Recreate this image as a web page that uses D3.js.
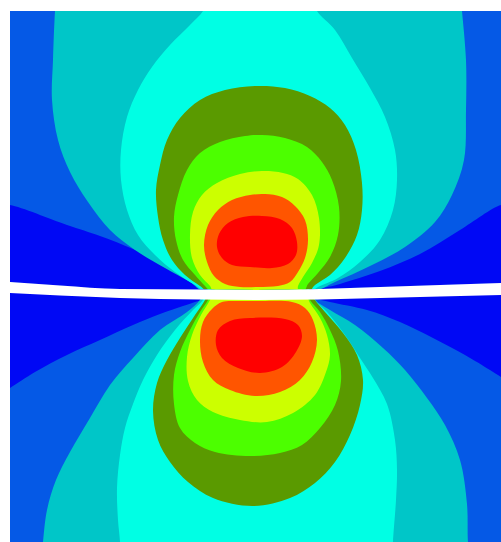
<!DOCTYPE html>
<meta charset="utf-8">

<head>
    <meta charset="utf-8">
    <title>Contact stress contours</title>
    <script type="text/javascript" src="https://d3js.org/d3.v7.min.js"></script>
</head>

<style type="text/css">
    body {
        margin: 0;
        background-color: #ffffff;
    }
</style>

<body>

    <div id="my_dataviz"></div>

    <script>

        // contour bands, lowest to highest
        const levels = [0, 1, 2, 3, 4, 5, 6, 7, 8];
        const palette = ["#0008F5", "#0559E6", "#00C6C8", "#00FFE4", "#5A9A00", "#4CFF00", "#CCFF00", "#FF5500", "#FF0000"];

        // the slit between the two bodies (x, y in mm)
        const gapTop = [[-24.6, 0.8], [-19.6, 0.45], [-13.6, 0.1], [-5.6, 0.05], [0, 0.0], [6.4, 0.1], [12.4, 0.3], [18.4, 0.5], [24.5, 0.7]];
        const gapBottom = [[-24.6, -0.3], [-19.6, -0.55], [-13.6, -0.8], [-5.6, -0.95], [0, -1.0], [6.4, -0.95], [12.4, -0.8], [18.4, -0.65], [24.5, -0.5]];

        // upper body: band outlines
        const upperDarkLeft = [[-25.6, 8.5], [-24.6, 8.5], [-18.9, 6.5], [-15.6, 5.4], [-12.3, 4.1], [-9.6, 2.9], [-7.1, 1.6], [-5.6, 0.7], [-4.8, -0.2], [-4.8, -1.0], [-25.6, -1.0]];
        const upperDarkRight = [[25.5, 8.5], [24.5, 8.5], [20.4, 6.0], [16.4, 3.6], [12.4, 1.9], [8.4, 0.6], [5.9, -0.2], [5.9, -1.0], [25.5, -1.0]];
        const upperTeal = [[-5.1, -0.2], [-6.6, 0.8], [-9.1, 2.2], [-12.1, 4.0], [-14.6, 6.0], [-16.8, 8.8], [-18.6, 11.8], [-19.8, 15.0], [-20.4, 19.0], [-20.3, 23.0], [-20.1, 27.9], [-20.0, 29.0],
            [20.5, 29.0], [20.6, 27.9], [21.0, 23.0], [21.0, 18.0], [20.8, 13.0], [19.6, 9.5], [17.9, 6.8], [14.9, 4.3], [11.4, 2.4], [7.9, 0.8], [5.6, -0.2]];
        const upperCyan = [[-4.9, -0.2], [-6.1, 0.5], [-8.1, 1.8], [-10.1, 3.5], [-11.8, 5.5], [-12.9, 8.0], [-13.5, 11.0], [-13.5, 14.0], [-12.9, 17.3], [-11.8, 20.0], [-10.4, 22.3], [-8.6, 24.5], [-6.6, 26.5], [-5.3, 27.9], [-4.9, 29.0],
            [5.7, 29.0], [6.1, 27.9], [7.9, 26.0], [9.6, 23.2], [11.4, 20.2], [12.9, 17.3], [13.9, 14.0], [14.1, 11.0], [13.7, 8.0], [12.4, 5.0], [10.4, 2.8], [8.2, 1.2], [6.2, 0.3], [5.4, -0.2]];
        const upperOlive = [[-4.7, -0.2], [-5.6, 0.4], [-7.1, 1.5], [-8.4, 3.0], [-9.3, 5.0], [-9.8, 7.3], [-10.0, 10.0], [-9.6, 12.5], [-8.9, 15.0], [-7.6, 17.2], [-5.6, 19.0], [-3.1, 20.0], [-0.1, 20.4],
            [2.9, 20.2], [5.4, 19.4], [7.4, 18.2], [8.9, 16.5], [10.0, 14.0], [10.6, 10.7], [10.6, 8.0], [10.1, 5.5], [8.9, 3.2], [7.4, 1.5], [5.9, 0.5], [5.2, -0.2]];
        const upperGreen = [[-4.4, -0.2], [-5.1, 0.4], [-6.1, 1.5], [-7.3, 3.0], [-8.0, 5.0], [-8.2, 7.3], [-7.8, 9.5], [-6.9, 12.0], [-5.6, 13.7], [-3.6, 14.8], [-1.1, 15.4], [0.6, 15.5],
            [2.9, 15.2], [5.1, 14.3], [6.6, 12.8], [7.6, 11.0], [8.3, 8.3], [8.2, 5.5], [7.4, 3.3], [6.2, 1.7], [5.2, 0.6], [4.7, -0.2]];
        const upperYellow = [[-4.2, -0.2], [-4.6, 0.4], [-5.6, 1.5], [-6.4, 3.2], [-6.6, 5.5], [-6.3, 7.8], [-5.4, 9.5], [-3.9, 10.7], [-1.6, 11.6], [0.6, 11.9],
            [2.7, 11.7], [4.2, 11.1], [5.6, 9.5], [6.3, 7.2], [6.3, 4.5], [5.6, 2.7], [4.7, 1.3], [4.2, 0.4], [4.1, -0.2]];
        const upperOrange = [[-3.1, 0.6], [-4.2, 1.4], [-4.9, 2.8], [-5.2, 4.5], [-4.8, 6.5], [-3.8, 8.0], [-2.4, 9.0], [-0.6, 9.5], [0.9, 9.6], [2.6, 9.3],
            [3.9, 8.4], [4.9, 7.0], [5.2, 5.0], [4.9, 3.2], [4.2, 1.8], [3.4, 0.8], [2.2, 0.4], [0.2, 0.3], [-1.6, 0.3]];
        const upperRed = [[-0.6, 2.3], [-2.4, 2.5], [-3.4, 3.2], [-3.9, 4.3], [-3.7, 5.6], [-2.8, 6.7], [-1.3, 7.3], [0.6, 7.4], [2.4, 7.1], [3.6, 6.2], [4.1, 4.8], [4.0, 3.5], [3.2, 2.6], [1.6, 2.2]];

        // lower body
        const lowerDarkLeft = [[-25.6, 0.0], [-4.6, 0.0], [-5.1, -0.8], [-6.1, -1.2], [-7.3, -1.6], [-9.6, -2.4], [-12.3, -3.5], [-15.6, -5.0], [-18.9, -6.5], [-22.1, -8.2], [-24.6, -9.8], [-25.6, -10.4]];
        const lowerDarkRight = [[25.5, 0.0], [4.9, 0.0], [5.9, -0.8], [7.4, -1.2], [11.1, -2.0], [14.4, -3.2], [17.7, -4.8], [20.9, -6.5], [23.4, -8.0], [24.5, -8.7], [25.5, -9.3]];
        const lowerTeal = [[-5.1, 0.0], [-5.6, -1.0], [-6.9, -2.2], [-9.6, -4.0], [-12.3, -6.8], [-14.6, -9.5], [-16.6, -12.8], [-18.6, -16.2], [-20.0, -19.0], [-20.9, -22.0], [-21.3, -25.2], [-21.4, -26.5],
            [21.4, -26.5], [21.2, -25.2], [21.1, -21.4], [20.4, -17.0], [18.9, -13.5], [17.1, -10.8], [14.9, -8.0], [12.7, -5.8], [9.9, -3.5], [7.4, -2.0], [5.9, -1.0], [5.4, 0.0]];
        const lowerCyan = [[-4.9, 0.0], [-5.3, -1.0], [-6.3, -2.0], [-8.1, -4.0], [-9.9, -6.5], [-11.3, -9.0], [-12.3, -11.4], [-13.1, -13.8], [-13.6, -16.5], [-13.9, -19.8], [-13.8, -23.0], [-13.6, -25.2], [-13.6, -26.5],
            [13.7, -26.5], [13.7, -25.2], [14.0, -21.0], [14.1, -18.0], [13.9, -15.0], [13.1, -11.4], [11.7, -8.8], [10.4, -6.8], [8.9, -4.5], [7.1, -2.2], [5.9, -1.0], [5.4, 0.0]];
        const lowerOlive = [[-4.7, 0.0], [-5.1, -1.0], [-6.1, -2.5], [-7.6, -4.8], [-8.9, -7.0], [-9.9, -9.3], [-10.3, -12.1], [-9.8, -15.0], [-8.6, -17.2], [-6.8, -19.2], [-4.3, -20.8], [-0.3, -21.6],
            [3.4, -20.8], [5.9, -19.3], [7.9, -17.2], [9.4, -14.5], [10.4, -11.5], [10.7, -9.0], [10.1, -6.5], [8.7, -4.3], [6.9, -2.2], [5.9, -1.0], [5.3, 0.0]];
        const lowerGreen = [[-4.4, 0.0], [-4.8, -1.0], [-5.6, -2.2], [-6.6, -4.0], [-7.6, -6.2], [-8.2, -8.5], [-8.2, -11.4], [-7.6, -13.8], [-6.1, -15.3], [-4.1, -16.2], [-0.6, -16.6],
            [2.4, -16.3], [4.6, -15.5], [6.4, -13.8], [7.9, -11.5], [8.5, -9.1], [8.2, -6.1], [7.4, -4.0], [6.4, -2.2], [5.4, -1.0], [5.0, 0.0]];
        const lowerYellow = [[-4.2, 0.0], [-4.6, -1.0], [-5.5, -2.5], [-6.4, -4.5], [-6.9, -6.7], [-6.8, -9.1], [-5.9, -11.0], [-4.3, -12.2], [-1.6, -13.0], [1.1, -13.2],
            [3.7, -12.3], [5.9, -10.5], [7.0, -8.2], [7.4, -6.5], [7.1, -4.5], [6.4, -2.8], [5.4, -1.3], [4.7, 0.0]];
        const lowerOrange = [[-1.6, -1.1], [-3.4, -1.2], [-4.4, -1.9], [-5.3, -3.2], [-5.6, -5.0], [-5.3, -7.2], [-4.3, -9.0], [-2.6, -10.0], [-0.1, -10.6], [2.4, -10.2],
            [4.4, -9.0], [5.6, -7.2], [6.1, -5.0], [5.7, -3.0], [4.9, -1.8], [3.6, -1.2], [0.4, -1.1]];
        const lowerRed = [[-0.6, -2.8], [-2.6, -3.1], [-3.8, -4.0], [-4.0, -5.5], [-3.4, -6.8], [-1.8, -7.8], [0.4, -8.3], [2.6, -7.7], [4.0, -6.2], [4.6, -4.6], [4.2, -3.5], [2.9, -2.9]];

        // set dimensions and margins of graph
        const margin = { top: 11, right: 0, bottom: 0, left: 10 },
            width = 501 - margin.left - margin.right,
            height = 542 - margin.top - margin.bottom;

        const svg = d3.select("#my_dataviz")
            .append("svg")
            .attr("width", width + margin.left + margin.right)
            .attr("height", height + margin.top + margin.bottom)
            .style("display", "block")
            .append("g")
            .attr("transform", `translate(${margin.left},${margin.top})`);

        // scales (mm)
        const x = d3.scaleLinear().domain([-24.6, 24.5]).range([0, width]);
        const y = d3.scaleLinear().domain([27.9, -25.2]).range([0, height]);

        const color = d3.scaleOrdinal().domain(levels).range(palette);

        const outline = d3.line()
            .x(d => x(d[0]))
            .y(d => y(d[1]))
            .curve(d3.curveCatmullRomClosed.alpha(0.5));

        // clip paths: whole plot, upper body, lower body
        const defs = svg.append("defs");
        defs.append("clipPath").attr("id", "plotClip")
            .append("rect").attr("width", width).attr("height", height);

        defs.append("clipPath").attr("id", "upperClip")
            .append("path")
            .attr("d", d3.area()
                .x(d => x(d[0]))
                .y0(y(29))
                .y1(d => y(d[1]))
                .curve(d3.curveMonotoneX)(gapBottom));

        defs.append("clipPath").attr("id", "lowerClip")
            .append("path")
            .attr("d", d3.area()
                .x(d => x(d[0]))
                .y0(d => y(d[1]))
                .y1(y(-27))
                .curve(d3.curveMonotoneX)(gapTop));

        const bodies = [
            { clip: "upperClip", bands: [[0, upperDarkLeft], [0, upperDarkRight], [2, upperTeal], [3, upperCyan], [4, upperOlive], [5, upperGreen], [6, upperYellow], [7, upperOrange], [8, upperRed]] },
            { clip: "lowerClip", bands: [[0, lowerDarkLeft], [0, lowerDarkRight], [2, lowerTeal], [3, lowerCyan], [4, lowerOlive], [5, lowerGreen], [6, lowerYellow], [7, lowerOrange], [8, lowerRed]] }
        ];

        const plot = svg.append("g").attr("clip-path", "url(#plotClip)");

        bodies.forEach(b => {
            const g = plot.append("g").attr("clip-path", `url(#${b.clip})`);
            // background band
            g.append("rect")
                .attr("width", width)
                .attr("height", height)
                .attr("fill", color(1));
            g.selectAll("path")
                .data(b.bands)
                .join("path")
                .attr("d", d => outline(d[1]))
                .attr("fill", d => color(d[0]));
        });

        // the white slit
        plot.append("path")
            .datum(gapBottom)
            .attr("fill", "#ffffff")
            .attr("d", d3.area()
                .x(d => x(d[0]))
                .y0((d, i) => y(gapTop[i][1]))
                .y1(d => y(d[1]))
                .curve(d3.curveMonotoneX));

    </script>
</body>

</html>
